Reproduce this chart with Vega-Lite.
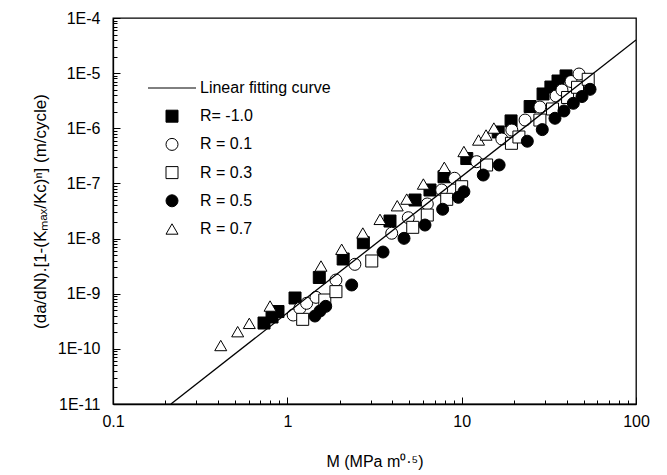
{
  "$schema": "https://vega.github.io/schema/vega-lite/v6.json",
  "width": 523,
  "height": 386,
  "autosize": {"type": "none"},
  "padding": {"left": 113, "top": 18, "right": 31, "bottom": 71},
  "background": "white",
  "config": {
    "view": {"stroke": "black", "strokeWidth": 1.3},
    "font": "Liberation Sans"
  },
  "datasets": {
    "points": [
      {"series": "R= -1.0", "M": 0.735, "Y": 2.94e-10},
      {"series": "R= -1.0", "M": 0.817, "Y": 3.78e-10},
      {"series": "R= -1.0", "M": 0.884, "Y": 4.75e-10},
      {"series": "R= -1.0", "M": 1.107, "Y": 8.36e-10},
      {"series": "R= -1.0", "M": 1.525, "Y": 1.97e-9},
      {"series": "R= -1.0", "M": 2.09, "Y": 4.26e-9},
      {"series": "R= -1.0", "M": 2.73, "Y": 8.41e-9},
      {"series": "R= -1.0", "M": 3.88, "Y": 2.08e-8},
      {"series": "R= -1.0", "M": 5.4, "Y": 5.0e-8},
      {"series": "R= -1.0", "M": 6.58, "Y": 7.6e-8},
      {"series": "R= -1.0", "M": 7.92, "Y": 1.32e-7},
      {"series": "R= -1.0", "M": 10.7, "Y": 2.83e-7},
      {"series": "R= -1.0", "M": 16.2, "Y": 8.57e-7},
      {"series": "R= -1.0", "M": 19.2, "Y": 1.36e-6},
      {"series": "R= -1.0", "M": 24.7, "Y": 2.48e-6},
      {"series": "R= -1.0", "M": 29.3, "Y": 4.19e-6},
      {"series": "R= -1.0", "M": 32.5, "Y": 5.6e-6},
      {"series": "R= -1.0", "M": 35.7, "Y": 7.2e-6},
      {"series": "R= -1.0", "M": 39.7, "Y": 8.9e-6},
      {"series": "R = 0.1", "M": 1.08, "Y": 4.11e-10},
      {"series": "R = 0.1", "M": 1.18, "Y": 5.43e-10},
      {"series": "R = 0.1", "M": 1.29, "Y": 6.7e-10},
      {"series": "R = 0.1", "M": 1.46, "Y": 8.6e-10},
      {"series": "R = 0.1", "M": 1.9, "Y": 1.77e-9},
      {"series": "R = 0.1", "M": 2.44, "Y": 3.41e-9},
      {"series": "R = 0.1", "M": 3.97, "Y": 1.25e-8},
      {"series": "R = 0.1", "M": 4.94, "Y": 2.39e-8},
      {"series": "R = 0.1", "M": 6.35, "Y": 4.24e-8},
      {"series": "R = 0.1", "M": 7.68, "Y": 7.6e-8},
      {"series": "R = 0.1", "M": 9.1, "Y": 1.24e-7},
      {"series": "R = 0.1", "M": 12.2, "Y": 2.48e-7},
      {"series": "R = 0.1", "M": 17.0, "Y": 6.4e-7},
      {"series": "R = 0.1", "M": 19.4, "Y": 9.3e-7},
      {"series": "R = 0.1", "M": 23.1, "Y": 1.41e-6},
      {"series": "R = 0.1", "M": 28.1, "Y": 2.43e-6},
      {"series": "R = 0.1", "M": 34.8, "Y": 3.85e-6},
      {"series": "R = 0.1", "M": 37.6, "Y": 4.94e-6},
      {"series": "R = 0.1", "M": 42.4, "Y": 7.05e-6},
      {"series": "R = 0.1", "M": 47.1, "Y": 9.64e-6},
      {"series": "R = 0.3", "M": 1.225, "Y": 3.43e-10},
      {"series": "R = 0.3", "M": 1.64, "Y": 7.69e-10},
      {"series": "R = 0.3", "M": 1.9, "Y": 1.09e-9},
      {"series": "R = 0.3", "M": 3.05, "Y": 3.92e-9},
      {"series": "R = 0.3", "M": 5.24, "Y": 1.6e-8},
      {"series": "R = 0.3", "M": 6.35, "Y": 2.67e-8},
      {"series": "R = 0.3", "M": 8.21, "Y": 5.15e-8},
      {"series": "R = 0.3", "M": 10.0, "Y": 8.72e-8},
      {"series": "R = 0.3", "M": 13.9, "Y": 2.16e-7},
      {"series": "R = 0.3", "M": 19.3, "Y": 5.34e-7},
      {"series": "R = 0.3", "M": 21.3, "Y": 6.95e-7},
      {"series": "R = 0.3", "M": 28.1, "Y": 1.41e-6},
      {"series": "R = 0.3", "M": 33.2, "Y": 2.24e-6},
      {"series": "R = 0.3", "M": 40.5, "Y": 3.62e-6},
      {"series": "R = 0.3", "M": 46.2, "Y": 5.54e-6},
      {"series": "R = 0.3", "M": 53.2, "Y": 7.73e-6},
      {"series": "R = 0.5", "M": 1.44, "Y": 3.94e-10},
      {"series": "R = 0.5", "M": 1.54, "Y": 4.86e-10},
      {"series": "R = 0.5", "M": 1.66, "Y": 5.9e-10},
      {"series": "R = 0.5", "M": 2.34, "Y": 1.44e-9},
      {"series": "R = 0.5", "M": 3.54, "Y": 5.7e-9},
      {"series": "R = 0.5", "M": 4.67, "Y": 1.01e-8},
      {"series": "R = 0.5", "M": 6.16, "Y": 1.76e-8},
      {"series": "R = 0.5", "M": 7.78, "Y": 3.4e-8},
      {"series": "R = 0.5", "M": 9.57, "Y": 5.6e-8},
      {"series": "R = 0.5", "M": 10.3, "Y": 7.08e-8},
      {"series": "R = 0.5", "M": 13.3, "Y": 1.42e-7},
      {"series": "R = 0.5", "M": 16.4, "Y": 2.16e-7},
      {"series": "R = 0.5", "M": 23.8, "Y": 5.83e-7},
      {"series": "R = 0.5", "M": 29.0, "Y": 9.46e-7},
      {"series": "R = 0.5", "M": 34.3, "Y": 1.52e-6},
      {"series": "R = 0.5", "M": 38.6, "Y": 2.06e-6},
      {"series": "R = 0.5", "M": 43.7, "Y": 2.84e-6},
      {"series": "R = 0.5", "M": 49.0, "Y": 3.77e-6},
      {"series": "R = 0.5", "M": 54.5, "Y": 5.09e-6},
      {"series": "R = 0.7", "M": 0.415, "Y": 1.15e-10},
      {"series": "R = 0.7", "M": 0.519, "Y": 2.05e-10},
      {"series": "R = 0.7", "M": 0.605, "Y": 2.9e-10},
      {"series": "R = 0.7", "M": 0.796, "Y": 5.98e-10},
      {"series": "R = 0.7", "M": 1.56, "Y": 3.18e-9},
      {"series": "R = 0.7", "M": 2.05, "Y": 6.4e-9},
      {"series": "R = 0.7", "M": 2.71, "Y": 1.26e-8},
      {"series": "R = 0.7", "M": 3.4, "Y": 2.23e-8},
      {"series": "R = 0.7", "M": 4.27, "Y": 3.94e-8},
      {"series": "R = 0.7", "M": 4.84, "Y": 5.2e-8},
      {"series": "R = 0.7", "M": 6.03, "Y": 9.75e-8},
      {"series": "R = 0.7", "M": 7.95, "Y": 1.96e-7},
      {"series": "R = 0.7", "M": 10.3, "Y": 3.79e-7},
      {"series": "R = 0.7", "M": 12.5, "Y": 6.13e-7},
      {"series": "R = 0.7", "M": 13.8, "Y": 7.55e-7},
      {"series": "R = 0.7", "M": 15.3, "Y": 1.01e-6}
    ],
    "fit": [
      {"M": 0.215, "Y": 1e-11},
      {"M": 100, "Y": 4.0e-5}
    ]
  },
  "layer": [
    {
      "data": {"name": "points"},
      "mark": {"type": "point", "filled": false, "stroke": "black", "strokeWidth": 1, "size": 144, "opacity": 1},
      "encoding": {
        "x": {
          "field": "M", "type": "quantitative",
          "scale": {"type": "log", "domain": [0.1, 100], "nice": false},
          "axis": {
            "orient": "bottom", "grid": false, "domain": true, "domainColor": "black", "domainWidth": 1.3,
            "ticks": true, "tickColor": "black", "tickWidth": 1,
            "tickSize": {"condition": {"test": "abs(log(datum.value)/LN10 - round(log(datum.value)/LN10)) < 0.001", "value": -7}, "value": -4},
            "title": "M (MPa m⁰·⁵)", "titleFont": "Liberation Sans", "titleFontSize": 16, "titleFontWeight": "normal", "titleColor": "black", "titlePadding": 21,
            "values": [0.1,0.2,0.3,0.4,0.5,0.6,0.7,0.8,0.9,1,2,3,4,5,6,7,8,9,10,20,30,40,50,60,70,80,90,100],
            "labelExpr": "abs(log(datum.value)/LN10 - round(log(datum.value)/LN10)) < 0.001 ? '' + datum.value : ''",
            "labelFont": "Liberation Sans", "labelFontSize": 16, "labelColor": "black", "labelPadding": 16,
            "labelOverlap": false, "labelFlush": false, "labelBound": false
          }
        },
        "y": {
          "field": "Y", "type": "quantitative",
          "scale": {"type": "log", "domain": [1e-11, 1e-4], "nice": false},
          "axis": {
            "orient": "left", "grid": false, "domain": true, "domainColor": "black", "domainWidth": 1.3,
            "ticks": true, "tickColor": "black", "tickWidth": 1,
            "tickSize": {"condition": {"test": "abs(log(datum.value)/LN10 - round(log(datum.value)/LN10)) < 0.001", "value": -7}, "value": -4},
            "title": "(da/dN).[1-(Kₘₐₓ/Kc)ⁿ] (m/cycle)", "titleFont": "Liberation Sans", "titleFontSize": 17, "titleFontWeight": "normal", "titleColor": "black", "titlePadding": 8,
            "values": [1e-11,2e-11,3e-11,4e-11,5e-11,6e-11,7e-11,8e-11,9e-11,1e-10,2e-10,3e-10,4e-10,5e-10,6e-10,7e-10,8e-10,9e-10,1e-9,2e-9,3e-9,4e-9,5e-9,6e-9,7e-9,8e-9,9e-9,1e-8,2e-8,3e-8,4e-8,5e-8,6e-8,7e-8,8e-8,9e-8,1e-7,2e-7,3e-7,4e-7,5e-7,6e-7,7e-7,8e-7,9e-7,1e-6,2e-6,3e-6,4e-6,5e-6,6e-6,7e-6,8e-6,9e-6,1e-5,2e-5,3e-5,4e-5,5e-5,6e-5,7e-5,8e-5,9e-5,1e-4],
            "labelExpr": "abs(log(datum.value)/LN10 - round(log(datum.value)/LN10)) < 0.001 ? '1E' + round(log(datum.value)/LN10) : ''",
            "labelFont": "Liberation Sans", "labelFontSize": 16, "labelColor": "black", "labelPadding": 20,
            "labelOverlap": false, "labelBound": false
          }
        },
        "shape": {
          "field": "series", "type": "nominal",
          "scale": {
            "domain": ["Linear fitting curve", "R= -1.0", "R = 0.1", "R = 0.3", "R = 0.5", "R = 0.7"],
            "range": ["M-4,0L4,0", "square", "circle", "square", "circle", "triangle-up"]
          },
          "legend": {
            "title": null, "orient": "none", "legendX": 51, "legendY": 62,
            "labelFontSize": 16, "labelFont": "Liberation Sans", "labelColor": "black",
            "symbolSize": 144, "symbolStrokeWidth": 1,
            "labelOffset": 20, "rowPadding": 12.2, "padding": 0,
            "encode": {"symbols": {"stroke": {"value": "black"}, "strokeWidth": {"value": 1}}}
          }
        },
        "fill": {
          "field": "series", "type": "nominal",
          "scale": {
            "domain": ["Linear fitting curve", "R= -1.0", "R = 0.1", "R = 0.3", "R = 0.5", "R = 0.7"],
            "range": ["black", "black", "white", "white", "black", "white"]
          },
          "legend": {
            "title": null, "orient": "none", "legendX": 51, "legendY": 62,
            "labelFontSize": 16, "labelFont": "Liberation Sans", "labelColor": "black",
            "symbolSize": 144, "symbolStrokeWidth": 1,
            "labelOffset": 20, "rowPadding": 12.2, "padding": 0,
            "encode": {"symbols": {"stroke": {"value": "black"}, "strokeWidth": {"value": 1}}}
          }
        }
      }
    },
    {
      "data": {"name": "fit"},
      "mark": {"type": "line", "color": "black", "strokeWidth": 1.3, "clip": true},
      "encoding": {
        "x": {"field": "M", "type": "quantitative"},
        "y": {"field": "Y", "type": "quantitative"}
      }
    }
  ]
}
